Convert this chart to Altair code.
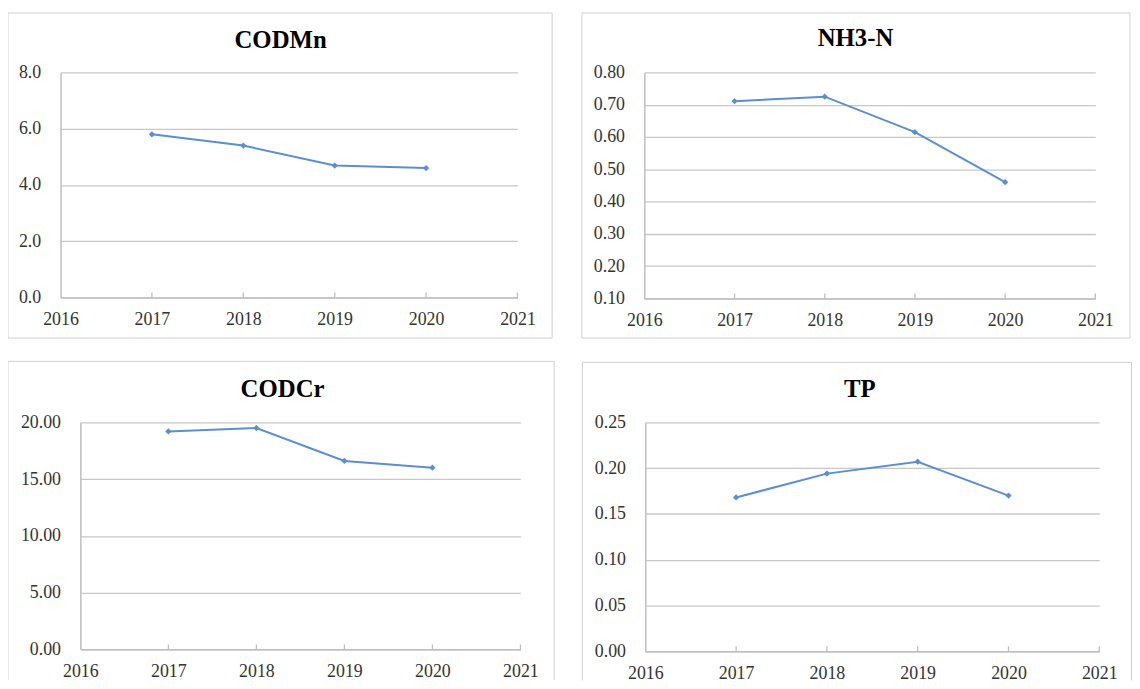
import altair as alt
import pandas as pd

# ---- data ----
years = [2017, 2018, 2019, 2020]
x_ticks = [2016, 2017, 2018, 2019, 2020, 2021]
tick_years = [2017, 2018, 2019, 2020, 2021]

codmn = [5.80, 5.40, 4.69, 4.60]
nh3n = [0.711, 0.725, 0.615, 0.460]
codcr = [19.2, 19.5, 16.6, 16.0]
tp = [0.168, 0.194, 0.207, 0.170]

codmn_ticks = [0.0, 2.0, 4.0, 6.0, 8.0]
nh3n_ticks = [0.10, 0.20, 0.30, 0.40, 0.50, 0.60, 0.70, 0.80]
codcr_ticks = [0.0, 5.0, 10.0, 15.0, 20.0]
tp_ticks = [0.00, 0.05, 0.10, 0.15, 0.20, 0.25]

LINE = "#5b8fcf"
FRAME = "#cfcfcf"
FONT = "Liberation Serif"


def panel(title, values, yticks, fmt, w, h, frame, title_xy, closed=True):
    df = pd.DataFrame({"year": years, "value": values})
    tick_df = pd.DataFrame({"year": tick_years})
    one = pd.DataFrame({"k": [0]})

    x = alt.X(
        "year:Q",
        scale=alt.Scale(domain=[2016, 2021], nice=False, zero=False),
        axis=alt.Axis(values=x_ticks, format="d", title=None, grid=False,
                      ticks=False, labelPadding=13, labelFlush=False,
                      labelOverlap=False),
    )
    y = alt.Y(
        "value:Q",
        scale=alt.Scale(domain=[yticks[0], yticks[-1]], nice=False, zero=False),
        axis=alt.Axis(values=yticks, format=fmt, title=None, grid=True,
                      ticks=False, labelPadding=20, labelFlush=False,
                      labelOverlap=False),
    )

    line = alt.Chart(df).mark_line(color=LINE, strokeWidth=2).encode(x=x, y=y)
    pts = alt.Chart(df).mark_point(shape="diamond", filled=True, size=40,
                                   color=LINE, opacity=1).encode(x=x, y=y)
    ticks = alt.Chart(tick_df).mark_rule(color="#bfbfbf", strokeWidth=1.3).encode(
        x=x, y=alt.value(h), y2=alt.value(h - 5))

    x1, x2, y1, y2 = frame
    fr = alt.Chart(one).mark_rule(color=FRAME, strokeWidth=1)
    frame_parts = [
        fr.encode(x=alt.value(x1), x2=alt.value(x2), y=alt.value(y1)),
        fr.encode(x=alt.value(x1), y=alt.value(y1), y2=alt.value(y2)),
        fr.encode(x=alt.value(x2), y=alt.value(y1), y2=alt.value(y2)),
    ]
    if closed:
        frame_parts.append(fr.encode(x=alt.value(x1), x2=alt.value(x2), y=alt.value(y2)))

    ttl = alt.Chart(one).mark_text(
        text=title, font=FONT, fontSize=25, fontWeight="bold", color="#000",
        align="center", baseline="middle",
    ).encode(x=alt.value(title_xy[0]), y=alt.value(title_xy[1]))

    return alt.layer(*frame_parts, line, ticks, pts, ttl).properties(width=w, height=h)


A = panel("CODMn", codmn, codmn_ticks, ".1f", 461, 227,
          (-53, 496, -60, 268), (222, -33))
B = panel("NH3-N", nh3n, nh3n_ticks, ".2f", 455, 228,
          (-63, 490, -60, 268), (213, -35))
C = panel("CODCr", codcr, codcr_ticks, ".2f", 444, 229,
          (-73, 478, -61.5, 260), (204, -34), closed=False)
D = panel("TP", tp, tp_ticks, ".2f", 458, 231,
          (-63.5, 490.5, -60.5, 260.5), (216.5, -34), closed=False)


def spacer():
    return alt.Chart(pd.DataFrame({"k": [0]})).mark_point(
        opacity=0, size=1, strokeWidth=0).encode(
        x=alt.value(0), y=alt.value(0)).properties(width=1, height=1)


row1 = alt.hconcat(spacer(), alt.hconcat(A, B, spacing=28), spacing=0)
row2 = alt.hconcat(spacer(), alt.hconcat(C, D, spacing=27), spacing=0)

chart = alt.vconcat(row1, row2, spacing=22).properties(
    padding={"left": -3, "top": 1, "right": 0, "bottom": 0}
).configure(background="white").configure_view(stroke=None).configure_axis(
    labelFont=FONT, labelFontSize=18, labelColor="#333",
    domainColor="#bfbfbf", domainWidth=1.5,
    gridColor="#c8c8c8", gridWidth=1.3,
)

chart.save("out.html", embed_options={"renderer": "svg", "actions": False})
